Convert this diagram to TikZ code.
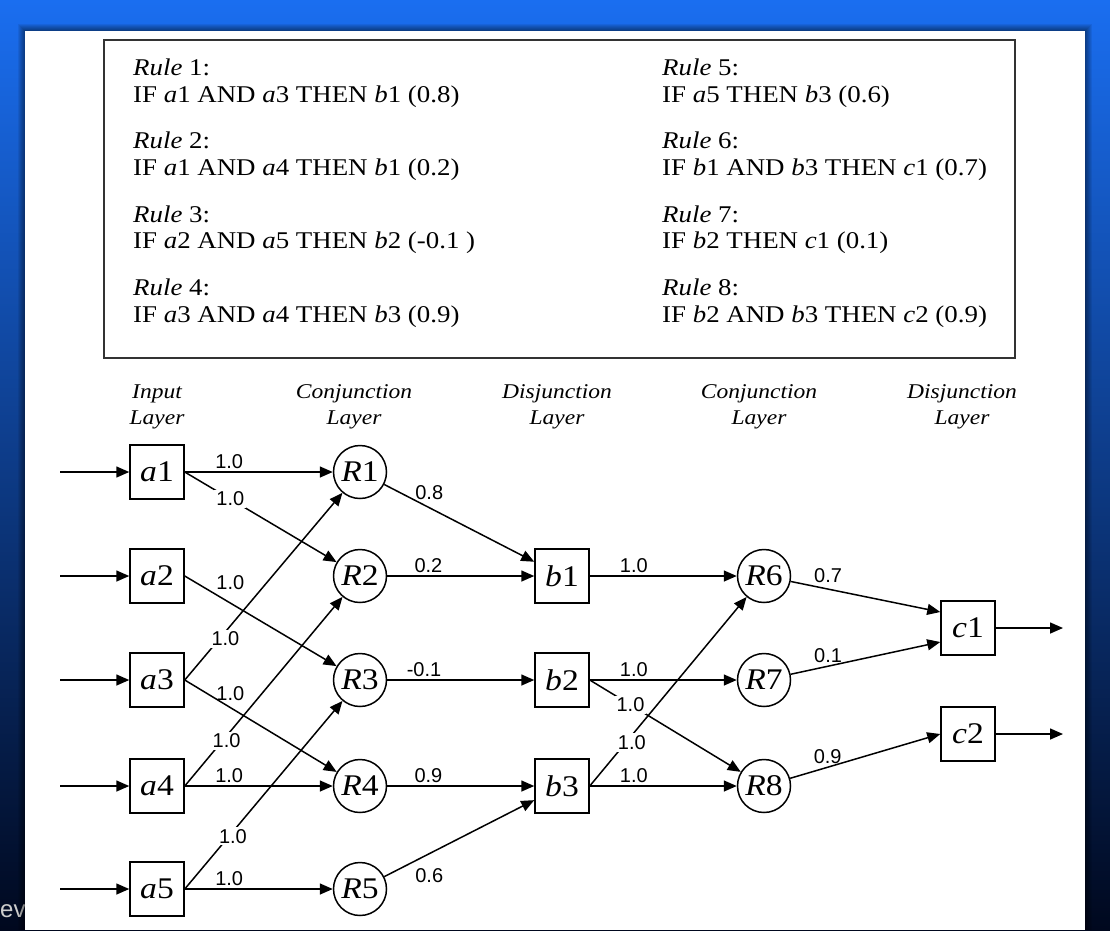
\documentclass[tikz,border=0pt]{standalone}
\usepackage{fontspec}
\setmainfont[FakeStretch=1.12]{Liberation Serif}
\setsansfont{Liberation Sans}
\usetikzlibrary{arrows.meta}
\definecolor{bgtop}{RGB}{26,110,240}
\definecolor{bgmid}{RGB}{8,62,165}
\definecolor{bgbot}{RGB}{0,8,30}
\definecolor{evgray}{RGB}{205,205,205}
\tikzset{
  sq/.style={draw, line width=1.5pt, minimum size=54pt, inner sep=0pt, font=\fontsize{30}{30}\selectfont},
  rc/.style={draw, circle, line width=1.5pt, minimum size=53pt, inner sep=0pt, font=\fontsize{30}{30}\selectfont},
  wt/.style={font=\sffamily\fontsize{20}{20}\selectfont, inner sep=2.5pt},
  wtw/.style={wt, fill=white, inner sep=2pt},
  lay/.style={font=\itshape\fontsize{21}{26}\selectfont, align=center, inner sep=0pt},
  rtxt/.style={anchor=base west, inner sep=0pt, font=\fontsize{24}{27}\selectfont},
  arr/.style={-{Triangle[length=13pt,width=11pt]}, line width=1.5pt}
}
\begin{document}
\begin{tikzpicture}[x=1pt,y=-1pt]
\useasboundingbox (0,0) rectangle (1110,930);
\shade[top color=bgtop, middle color=bgmid, bottom color=bgbot] (0,0) rectangle (1110,930);
\node[anchor=base west, text=evgray, font=\sffamily\fontsize{24}{24}\selectfont, inner sep=0pt] (ev) at (0,917) {ev};
\foreach \s in {1,...,7}{
\fill[black, opacity=0.07] (25-\s,31-\s) rectangle (1085+\s,930);
}
\fill[white] (25,31) rectangle (1085,930);

\draw[line width=1.6pt, draw=black!80] (104,40) rectangle (1015,358);
\foreach \n/\x/\y in {1/133/75,2/133/148,3/133/222,4/133/295,5/662/75,6/662/148,7/662/222,8/662/295}{
\node[rtxt] (rule\n) at (\x,\y) {\textit{Rule} \n:};
}
\node[rtxt] (if1) at (133,102) {IF \textit{a}1 AND \textit{a}3 THEN \textit{b}1 (0.8)};
\node[rtxt] (if2) at (133,175) {IF \textit{a}1 AND \textit{a}4 THEN \textit{b}1 (0.2)};
\node[rtxt] (if3) at (133,248) {IF \textit{a}2 AND \textit{a}5 THEN \textit{b}2 (-0.1 )};
\node[rtxt] (if4) at (133,322) {IF \textit{a}3 AND \textit{a}4 THEN \textit{b}3 (0.9)};
\node[rtxt] (if5) at (662,102) {IF \textit{a}5 THEN \textit{b}3 (0.6)};
\node[rtxt] (if6) at (662,175) {IF \textit{b}1 AND \textit{b}3 THEN \textit{c}1 (0.7)};
\node[rtxt] (if7) at (662,248) {IF \textit{b}2 THEN \textit{c}1 (0.1)};
\node[rtxt] (if8) at (662,322) {IF \textit{b}2 AND \textit{b}3 THEN \textit{c}2 (0.9)};

\foreach \x/\t [count=\k] in {157/Input,354/Conjunction,557/Disjunction,759/Conjunction,962/Disjunction}{
\node[lay] (lay\k) at (\x,407) {\t\\Layer};
}

\foreach \i/\y in {1/472,2/576,3/680,4/786,5/889}{
\node[sq] (a\i) at (157,\y) {\textit{a}\i};
\coordinate (in\i) at (60,\y);
\draw[arr] (in\i) -- (a\i);
\node[rc] (R\i) at (360,\y) {\textit{R}\i};
}
\node[sq] (b1) at (562,576) {\textit{b}1};
\node[sq] (b2) at (562,680) {\textit{b}2};
\node[sq] (b3) at (562,786) {\textit{b}3};
\node[rc] (R6) at (764,576) {\textit{R}6};
\node[rc] (R7) at (764,680) {\textit{R}7};
\node[rc] (R8) at (764,786) {\textit{R}8};
\node[sq] (c1) at (968,628) {\textit{c}1};
\node[sq] (c2) at (968,734) {\textit{c}2};
\coordinate (out1) at (1063,628);
\coordinate (out2) at (1063,734);

\draw[arr] (a1.east) -- node[wt, pos=0.3, above] {1.0} (R1);
\draw[arr] (a1.east) -- node[wtw, pos=0.3] {1.0} (R2);
\draw[arr] (a2.east) -- node[wt, pos=0.3, above=10pt] {1.0} (R3);
\draw[arr] (a3.east) -- node[wtw, pos=0.22, xshift=6pt] {1.0} (R1);
\draw[arr] (a3.east) -- node[wt, pos=0.3, above=4pt] {1.0} (R4);
\draw[arr] (a4.east) -- node[wtw, pos=0.24, xshift=4pt] {1.0} (R2);
\draw[arr] (a4.east) -- node[wt, pos=0.3, above] {1.0} (R4);
\draw[arr] (a5.east) -- node[wtw, pos=0.28, xshift=4pt] {1.0} (R3);
\draw[arr] (a5.east) -- node[wt, pos=0.3, above] {1.0} (R5);

\draw[arr] (R1) -- node[wt, pos=0.3, above=5pt] {0.8} (b1);
\draw[arr] (R2) -- node[wt, pos=0.28, above] {0.2} (b1);
\draw[arr] (R3) -- node[wt, pos=0.25, above] {-0.1} (b2);
\draw[arr] (R4) -- node[wt, pos=0.28, above] {0.9} (b3);
\draw[arr] (R5) -- node[wt, pos=0.3, below=12pt] {0.6} (b3);

\draw[arr] (b1) -- node[wt, pos=0.3, above] {1.0} (R6);
\draw[arr] (b2) -- node[wt, pos=0.3, above] {1.0} (R7);
\draw[arr] (b2.east) -- node[wtw, pos=0.27] {1.0} (R8);
\draw[arr] (b3.east) -- node[wtw, pos=0.23, xshift=6pt] {1.0} (R6);
\draw[arr] (b3) -- node[wt, pos=0.3, above] {1.0} (R8);

\draw[arr] (R6) -- node[wt, pos=0.25, above=3pt] {0.7} ([yshift=16pt]c1.west);
\draw[arr] (R7) -- node[wt, pos=0.25, above] {0.1} ([yshift=-14pt]c1.west);
\draw[arr] (R8) -- node[wt, pos=0.25, above] {0.9} (c2.west);
\draw[arr] (c1) -- (out1);
\draw[arr] (c2) -- (out2);
\end{tikzpicture}
\end{document}
